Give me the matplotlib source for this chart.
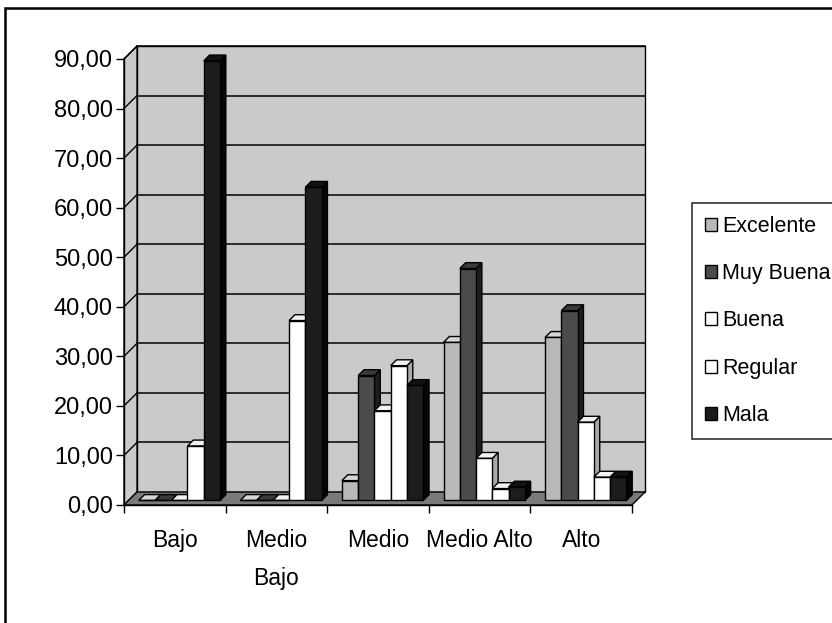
import matplotlib
matplotlib.use("Agg")
import matplotlib.pyplot as plt
from matplotlib.patches import Polygon, Rectangle
from matplotlib.lines import Line2D
from matplotlib.ticker import FixedLocator, FuncFormatter

plt.rcParams['font.family'] = ['Liberation Sans Narrow', 'Liberation Sans', 'DejaVu Sans']

# Data
categories = ["Bajo", "Medio\nBajo", "Medio", "Medio Alto", "Alto"]
series = ["Excelente", "Muy Buena", "Buena", "Regular", "Mala"]
excelente = [0.0, 0.0, 4.0, 31.9, 32.9]
muy_buena = [0.0, 0.0, 25.2, 46.8, 38.3]
buena = [0.0, 0.0, 18.1, 8.5, 15.8]
regular = [11.0, 36.3, 27.2, 2.4, 4.7]
mala = [88.7, 63.2, 23.2, 2.7, 4.7]
y_ticks = [0, 10, 20, 30, 40, 50, 60, 70, 80, 90]

values = [excelente, muy_buena, buena, regular, mala]

# (front, top, side) shades for each series
shades = [
    ("#b9b9b9", "#d6d6d6", "#8c8c8c"),
    ("#4b4b4b", "#3a3a3a", "#1e1e1e"),
    ("#ffffff", "#f2f2f2", "#a8a8a8"),
    ("#ffffff", "#f2f2f2", "#a8a8a8"),
    ("#1c1c1c", "#121212", "#050505"),
]

W, H = 832, 623
fig = plt.figure(figsize=(W / 100, H / 100), dpi=100)
fig.patch.set_facecolor("white")

# outer chart border
fig.add_artist(Rectangle((5 / W, -0.05), 1.1, (H - 8) / H + 0.05,
                         transform=fig.transFigure, fill=False,
                         edgecolor="black", linewidth=1.8))

ax = fig.add_axes([124 / W, (H - 505) / H, 508 / W, 446 / H])
ax.set_xlim(-0.5, 4.5)
ax.set_ylim(0, 90)
ax.set_facecolor("none")

# depth of the floor / walls in data units
dx = 13 / (508 / 5)
dy = 13 / (446 / 90)
x0, x1 = -0.5, 4.5
ytop = y_ticks[-1]

wall_col = "#cacacc"
floor_col = "#7a7a7a"
kw = dict(clip_on=False, linewidth=1.0, edgecolor="black", joinstyle="miter")

# back wall
ax.add_patch(Polygon([(x0 + dx, dy), (x1 + dx, dy), (x1 + dx, ytop + dy), (x0 + dx, ytop + dy)],
                     facecolor=wall_col, zorder=1, **kw))
# side wall
ax.add_patch(Polygon([(x0, 0), (x0 + dx, dy), (x0 + dx, ytop + dy), (x0, ytop)],
                     facecolor=wall_col, zorder=1, **kw))
# floor
ax.add_patch(Polygon([(x0, 0), (x1, 0), (x1 + dx, dy), (x0 + dx, dy)],
                     facecolor=floor_col, zorder=1.5, **kw))

# gridlines on back and side walls
for yv in y_ticks[1:]:
    ax.add_line(Line2D([x0 + dx, x1 + dx], [yv + dy, yv + dy], color="black",
                       linewidth=1.1, zorder=1.2, clip_on=False))
    ax.add_line(Line2D([x0, x0 + dx], [yv, yv + dy], color="black",
                       linewidth=1.0, zorder=1.2, clip_on=False))

# 3D-style clustered bars
n = len(series)
group_w = 0.8
bw = group_w / n
f0 = 0.35       # depth position of the bar front faces
fd = 0.45       # bar depth as a share of the floor depth
ox, oy = f0 * dx, f0 * dy
bdx, bdy = fd * dx, fd * dy

z = 3.0
for ci in range(len(categories)):
    for si in range(n):
        v = values[si][ci]
        front, topc, side = shades[si]
        left = ci - group_w / 2 + si * bw + ox
        base = oy
        top = v + oy
        # side face
        ax.add_patch(Polygon([(left + bw, base), (left + bw + bdx, base + bdy),
                              (left + bw + bdx, top + bdy), (left + bw, top)],
                             facecolor=side, zorder=z, **kw))
        # top face
        ax.add_patch(Polygon([(left, top), (left + bw, top), (left + bw + bdx, top + bdy),
                              (left + bdx, top + bdy)],
                             facecolor=topc, zorder=z + 0.1, **kw))
        # front face
        ax.bar(left, v, width=bw, bottom=base, align="edge", color=front,
               edgecolor="black", linewidth=1.0, zorder=z + 0.2, clip_on=False)
        z += 0.5

# axes and ticks
for s in ("top", "right"):
    ax.spines[s].set_visible(False)
ax.spines["left"].set_linewidth(1.0)
ax.spines["bottom"].set_linewidth(1.0)
ax.spines["left"].set_zorder(2)
ax.spines["bottom"].set_zorder(2)

ax.yaxis.set_major_locator(FixedLocator(y_ticks))
ax.yaxis.set_major_formatter(FuncFormatter(lambda v, p: f"{v:.2f}".replace(".", ",")))
ax.tick_params(axis="y", direction="out", length=6, width=1.0, pad=2,
               labelsize=17, colors="black")

ax.set_xticks(range(len(categories)))
ax.set_xticklabels(categories, fontsize=16.5, linespacing=1.85, va="top")
ax.set_xticks([i - 0.5 for i in range(len(categories) + 1)], minor=True)
ax.tick_params(axis="x", which="major", length=0, pad=17)
ax.tick_params(axis="x", which="minor", direction="out", length=6, width=1.0)

# legend
handles = [Rectangle((0, 0), 1, 1, facecolor=shades[i][0], edgecolor="black", linewidth=1.0)
           for i in range(n)]
leg = fig.legend(handles, series, loc="upper left",
                 bbox_to_anchor=(692 / W, (H - 203) / H),
                 frameon=True, fancybox=False, shadow=False, fontsize=15.5,
                 handlelength=0.55, handleheight=0.55, handletextpad=0.25,
                 labelspacing=1.22, borderpad=0.6, borderaxespad=0)
leg.get_frame().set_edgecolor("black")
leg.get_frame().set_linewidth(1.2)

fig.savefig("out.png", dpi=100)
